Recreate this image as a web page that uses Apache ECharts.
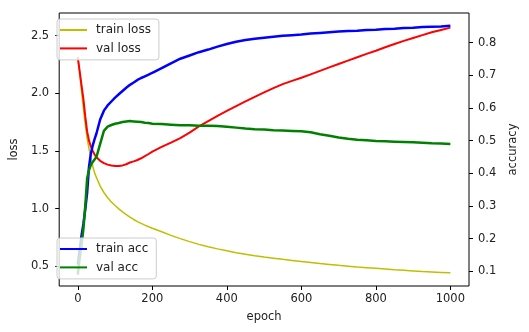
<!DOCTYPE html>
<html><head><meta charset="utf-8">
<script src="https://cdn.jsdelivr.net/npm/echarts@6/dist/echarts.min.js"></script>
<style>html,body{margin:0;padding:0;background:#fff}#c{width:529px;height:332px}</style>
</head><body><div id="c"></div>
<script>
const epochs = [0,5,10,15,20,25,30,35,40,45,50,
  60,70,80,90,100,110,120,130,140,150,160,170,180,190,200,
  225,250,275,300,325,350,375,400,425,450,475,500,525,550,575,600,625,650,675,700,725,750,775,800,825,850,875,900,925,950,975,1000];
const trainLoss = [2.32,2.17,2.02,1.87,1.73,1.61,1.52,1.44,1.37,1.31,1.27,
  1.195,1.14,1.095,1.058,1.027,0.998,0.972,0.948,0.926,0.906,0.888,0.872,0.857,0.843,0.83,
  0.80,0.768,0.74,0.714,0.69,0.669,0.651,0.634,0.618,0.604,0.591,0.58,0.57,0.56,0.551,0.542,0.533,0.524,0.516,0.508,0.501,0.494,0.488,0.482,0.476,0.47,0.465,0.46,0.455,0.451,0.447,0.443];
const valLoss = [2.31,2.19,2.07,1.95,1.80,1.67,1.59,1.54,1.50,1.47,1.445,
  1.415,1.395,1.382,1.374,1.37,1.37,1.375,1.385,1.40,1.41,1.422,1.437,1.455,1.474,1.495,
  1.535,1.572,1.612,1.66,1.714,1.76,1.805,1.848,1.89,1.93,1.97,2.008,2.045,2.08,2.108,2.135,2.165,2.195,2.225,2.255,2.284,2.313,2.342,2.37,2.4,2.428,2.455,2.48,2.505,2.53,2.55,2.57];
const trainAcc = [0.12,0.165,0.21,0.245,0.29,0.34,0.42,0.46,0.485,0.505,0.522,
  0.565,0.592,0.608,0.62,0.632,0.642,0.652,0.662,0.671,0.678,0.686,0.692,0.697,0.702,0.708,
  0.722,0.737,0.751,0.761,0.771,0.779,0.788,0.796,0.803,0.808,0.812,0.815,0.818,0.821,0.823,0.825,0.828,0.830,0.832,0.834,0.836,0.837,0.839,0.840,0.842,0.843,0.845,0.846,0.848,0.849,0.850,0.852];
const valAcc = [0.09,0.14,0.18,0.23,0.30,0.385,0.41,0.425,0.435,0.44,0.45,
  0.49,0.53,0.543,0.548,0.552,0.554,0.557,0.559,0.56,0.559,0.558,0.557,0.555,0.554,0.552,
  0.551,0.549,0.547,0.547,0.546,0.546,0.545,0.543,0.540,0.537,0.535,0.534,0.532,0.531,0.530,0.529,0.526,0.520,0.515,0.510,0.506,0.503,0.501,0.499,0.498,0.497,0.496,0.495,0.494,0.492,0.491,0.490];
const xTicks = ['0','200','400','600','800','1000'];
const lossTicks = ['0.5','1.0','1.5','2.0','2.5'];
const accTicks = ['0.1','0.2','0.3','0.4','0.5','0.6','0.7','0.8'];

const pairs = (ys) => epochs.map((e, i) => [e, ys[i]]);
const nums = (list) => list.map(parseFloat);
const pick = (list) => (v) => {
  const t = list.find(s => Math.abs(parseFloat(s) - v) < 1e-6);
  return t === undefined ? '' : t;
};
const FONT = 'DejaVu Sans';
const TXT = '#222';
const axisCommon = {
  splitLine: {show: false},
  axisLine: {show: false, onZero: false},
  nameTextStyle: {fontFamily: FONT, fontSize: 11.5, color: TXT},
};
const tickFor = (list) => ({show: true, length: 4, customValues: nums(list), lineStyle: {color: '#000', width: 1}});
const labelFor = (list, margin) => ({customValues: nums(list), formatter: pick(list), fontFamily: FONT, fontSize: 11.5, color: TXT, margin: margin});
const legendCommon = {
  orient: 'vertical', left: 57,
  icon: 'rect',
  itemWidth: 27, itemHeight: 2, itemGap: 4.4,
  padding: [4, 8, 4.5, 3],
  backgroundColor: 'rgba(255,255,255,0.8)',
  borderColor: '#cccccc', borderWidth: 1, borderRadius: 3,
  textStyle: {fontFamily: FONT, fontSize: 12, color: TXT, padding: [0, 0, 0, 4], lineHeight: 14, height: 14},
};
const chart = echarts.init(document.getElementById('c'), null, {renderer: 'canvas'});
chart.setOption({
  animation: false,
  backgroundColor: '#fff',
  grid: {left: 51, right: 60, top: 13, bottom: 46, show: true, borderColor: '#000', borderWidth: 1},
  xAxis: Object.assign({}, axisCommon, {
    type: 'value', min: -50, max: 1050,
    name: 'epoch', nameLocation: 'middle', nameGap: 25,
    axisTick: tickFor(xTicks),
    axisLabel: labelFor(xTicks, 7),
  }),
  yAxis: [
    Object.assign({}, axisCommon, {
      type: 'value', position: 'left', min: 0.329, max: 2.697,
      name: 'loss', nameLocation: 'middle', nameGap: 39,
      axisTick: tickFor(lossTicks),
      axisLabel: labelFor(lossTicks, 10),
    }),
    Object.assign({}, axisCommon, {
      type: 'value', position: 'right', min: 0.055, max: 0.891,
      name: 'accuracy', nameLocation: 'middle', nameGap: 30,
      axisTick: tickFor(accTicks),
      axisLabel: labelFor(accTicks, 9),
    }),
  ],
  legend: [
    Object.assign({}, legendCommon, {top: 19, data: ['train loss', 'val loss']}),
    Object.assign({}, legendCommon, {top: 238, data: ['train acc', 'val acc']}),
  ],
  series: [
    {name: 'train loss', type: 'line', yAxisIndex: 0, data: pairs(trainLoss), symbol: 'none',
      lineStyle: {color: '#bfbf00', width: 1.5}, itemStyle: {color: '#bfbf00'}},
    {name: 'val loss', type: 'line', yAxisIndex: 0, data: pairs(valLoss), symbol: 'none',
      lineStyle: {color: '#ff0000', width: 2}, itemStyle: {color: '#ff0000'}},
    {name: 'train acc', type: 'line', yAxisIndex: 1, data: pairs(trainAcc), symbol: 'none',
      lineStyle: {color: '#0000ff', width: 2.5}, itemStyle: {color: '#0000ff'}},
    {name: 'val acc', type: 'line', yAxisIndex: 1, data: pairs(valAcc), symbol: 'none',
      lineStyle: {color: '#008000', width: 2.5}, itemStyle: {color: '#008000'}},
  ],
});
</script>
</body></html>
